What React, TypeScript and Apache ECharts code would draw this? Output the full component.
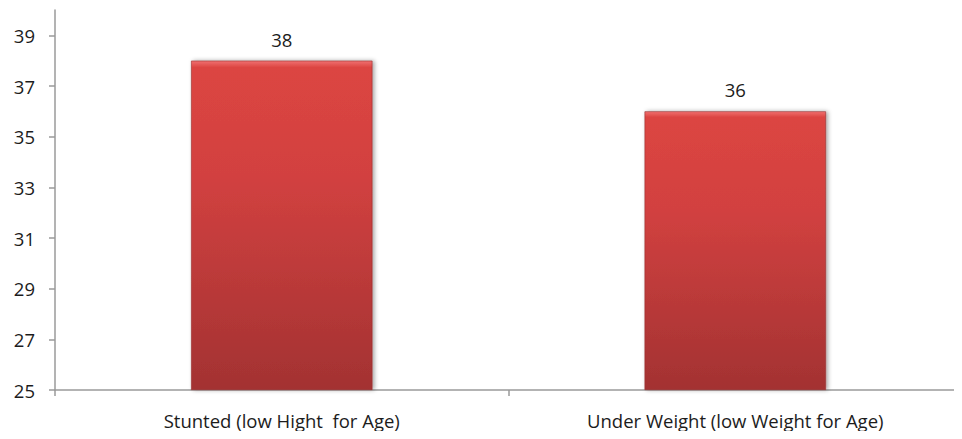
import React, { useEffect, useRef } from "react";
import * as echarts from "echarts";

const categories = ["Stunted (low Hight  for Age)", "Under Weight (low Weight for Age)"];
const values = [38, 36];
const yBase = 25;
const yTop = 40;
const yStep = 2;

export default function App() {
  const ref = useRef<HTMLDivElement>(null);
  useEffect(() => {
    if (!ref.current) return;
    const chart = echarts.init(ref.current, null, { renderer: "svg" });
    const font = "'Open Sans', 'Noto Sans', sans-serif";
    chart.setOption({
      animation: false,
      grid: { left: 55, top: 10, bottom: 49, width: 918 },
      xAxis: {
        type: "category",
        data: categories,
        axisLine: { lineStyle: { color: "#9a9a9a", width: 1.5 } },
        axisTick: { show: true, length: 6, lineStyle: { color: "#9a9a9a", width: 1.5 } },
        axisLabel: { color: "#1c1c1c", fontSize: 18.5, fontFamily: font, margin: 21 },
      },
      yAxis: {
        type: "value",
        min: 0,
        max: yTop - yBase,
        interval: yStep,
        splitLine: { show: false },
        axisLine: { show: true, lineStyle: { color: "#9a9a9a", width: 1.5 } },
        axisTick: { show: true, length: 6, lineStyle: { color: "#9a9a9a", width: 1.5 } },
        axisLabel: {
          color: "#1c1c1c",
          fontSize: 18.5,
          fontFamily: font,
          margin: 20,
          showMaxLabel: false,
          formatter: (v: number) => String(v + yBase),
        },
      },
      series: [
        {
          type: "bar",
          data: values.map((v) => v - yBase),
          barWidth: "40%",
          itemStyle: {
            color: new echarts.graphic.LinearGradient(0, 0, 0, 1, [
              { offset: 0, color: "#f07070" },
              { offset: 0.02, color: "#dc4542" },
              { offset: 0.35, color: "#d24140" },
              { offset: 1, color: "#a33232" },
            ]),
            borderColor: "#962e2e",
            borderWidth: 0.6,
            shadowColor: "rgba(0,0,0,0.35)",
            shadowBlur: 4,
            shadowOffsetX: 2,
            shadowOffsetY: 0,
          },
          label: {
            show: true,
            position: "top",
            distance: 12,
            color: "#1c1c1c",
            fontSize: 18.5,
            fontFamily: font,
            formatter: (p: any) => String(values[p.dataIndex]),
          },
        },
      ],
    });
    return () => chart.dispose();
  }, []);
  return <div ref={ref} style={{ width: 962, height: 439, margin: -8 }} />;
}
